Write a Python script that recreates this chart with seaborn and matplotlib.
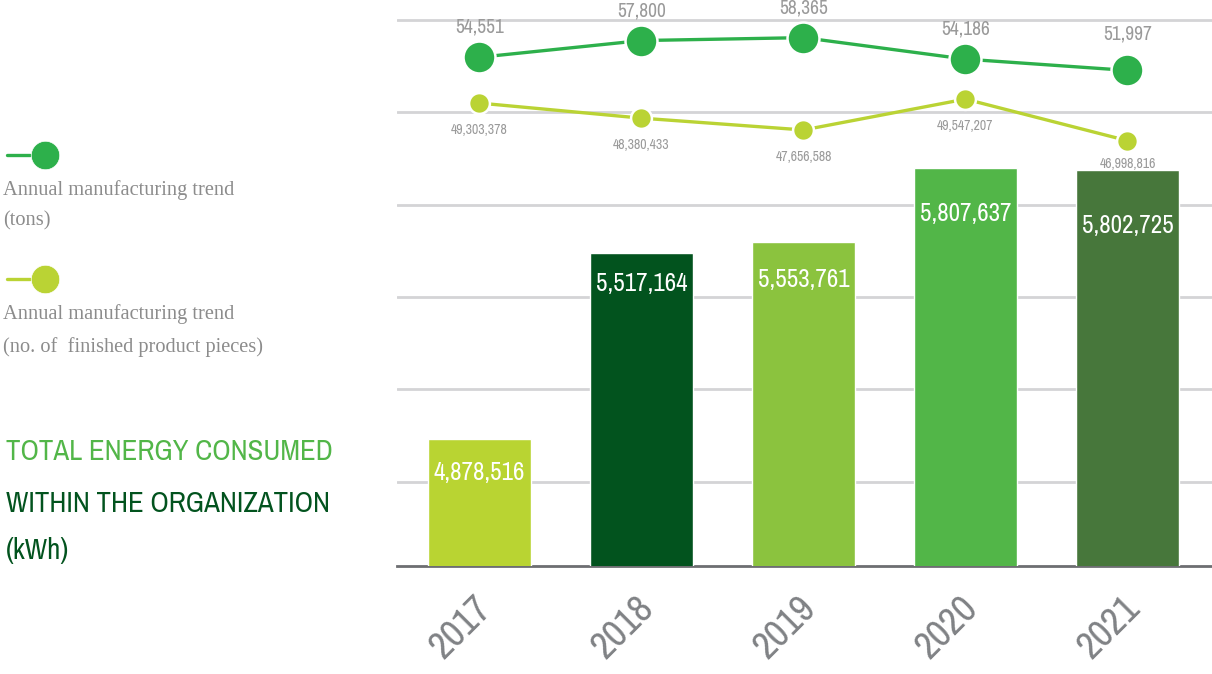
import numpy as np
import pandas as pd
import matplotlib
matplotlib.use("Agg")
import matplotlib.pyplot as plt
import matplotlib.font_manager as fm
import matplotlib.transforms as mtransforms
from matplotlib.lines import Line2D
import seaborn as sns

# ---------------- data ----------------
years = ["2017", "2018", "2019", "2020", "2021"]
energy_kwh = [4878516, 5517164, 5553761, 5807637, 5802725]
tons = [54551, 57800, 58365, 54186, 51997]
pieces = [49303378, 48380433, 47656588, 49547207, 46998816]

bar_colors = ["#b9d432", "#02531e", "#8bc33e", "#52b648", "#47773b"]
tons_color = "#2db04b"
pieces_color = "#bad334"
label_gray = "#9a9a9a"

# ---------------- fonts ----------------
sns.set_theme(style="white")
entries = fm.fontManager.ttflist
names = {f.name for f in entries}
cond_names = sorted({f.name for f in entries
                     if ("Condensed" in f.name or "Narrow" in f.name)})
cond_stretch = [f for f in entries if f.stretch in ("condensed", "semi-condensed", "extra-condensed")]
if cond_names:
    COND = dict(family=cond_names[0])
    NARROW = True
elif cond_stretch:
    COND = dict(family=cond_stretch[0].name, stretch="condensed")
    NARROW = True
else:
    COND = dict(family="Roboto" if "Roboto" in names else "DejaVu Sans")
    NARROW = False
SERIF = "Liberation Serif" if "Liberation Serif" in names else "DejaVu Serif"
plt.rcParams["font.family"] = [COND["family"], "DejaVu Sans"]

W, H = 1212, 674
fig = plt.figure(figsize=(W / 100, H / 100), dpi=100)

def fx(px):
    return px / W

def fy(py):
    return 1 - py / H

# main axes: from x=397 to right edge, from y=0 to baseline y=566
AX_L, AX_R, AX_T, AX_B = 397, 1212, 0, 566
ax = fig.add_axes([fx(AX_L), fy(AX_B), (AX_R - AX_L) / W, (AX_B - AX_T) / H])

df = pd.DataFrame({"year": years, "energy": energy_kwh, "tons": tons, "pieces": pieces})

sns.barplot(data=df, x="year", y="energy", hue="year", palette=bar_colors,
            legend=False, width=0.636, saturation=1, ax=ax, zorder=3)

# value scale (bars start from a truncated baseline as in the infographic)
BAR_LO, BAR_HI = 4.4441e6, 6.3838e6
ax.set_ylim(BAR_LO, BAR_HI)
ax.set_xlim(-0.509, 4.522)

# ---------------- trend lines on their own scales ----------------
ax_t = ax.twinx()
ax_p = ax.twinx()
for a in (ax_t, ax_p):
    a.set_xlim(ax.get_xlim())

ax_t.set_ylim(-44330, 65680)
ax_p.set_ylim(20.938e6, 55.620e6)

pos = np.arange(len(years))
sns.lineplot(x=pos, y=df["pieces"], ax=ax_p, color=pieces_color, linewidth=2.4,
             marker="o", markersize=15, markeredgecolor="white", markeredgewidth=1.8)
sns.lineplot(x=pos, y=df["tons"], ax=ax_t, color=tons_color, linewidth=2.4,
             marker="o", markersize=23, markeredgecolor="white", markeredgewidth=1.8)
ax_t.set_axis_off()
ax_p.set_axis_off()

# grid rows (pixel rows of the reference) converted to data values
grid_px = [20, 112, 205, 297, 389, 482]
grid_vals = [BAR_LO + (AX_B - p) / (AX_B - AX_T) * (BAR_HI - BAR_LO) for p in grid_px]
ax.set_yticks(grid_vals)
ax.yaxis.grid(True, color="#d4d4d6", linewidth=2.0)
ax.xaxis.grid(False)
ax.set_axisbelow(True)
ax.tick_params(axis="y", which="both", left=False, right=False,
               labelleft=False, labelright=False, length=0)
for s in ["top", "right", "left"]:
    ax.spines[s].set_visible(False)
ax.spines["bottom"].set_color("#6d6e71")
ax.spines["bottom"].set_linewidth(2.0)
ax.set_xlabel("")
ax.set_ylabel("")
ax.patch.set_alpha(0)

# year tick labels
ax.tick_params(axis="x", bottom=False, pad=20)
ax.set_xticks(range(len(years)))
ax.set_xticklabels(years)
shift = mtransforms.ScaledTranslation(7 / 100, 0, fig.dpi_scale_trans)
for t in ax.get_xticklabels():
    t.set_rotation(45)
    t.set_ha("right")
    t.set_va("center")
    t.set_rotation_mode("anchor")
    t.set_fontsize(28)
    t.set_color("#808285")
    t.set_fontfamily(COND["family"])
    if "stretch" in COND:
        t.set_fontstretch(COND["stretch"])
    t.set_transform(t.get_transform() + shift)

# bar value labels (white, inside the top of each bar)
bar_label_drop = [33, 31, 37, 45, 56]
for i, v in enumerate(energy_kwh):
    ax.annotate(f"{v:,}", xy=(i, v), xytext=(0, -bar_label_drop[i]),
                textcoords="offset pixels", ha="center", va="center",
                color="white", fontsize=18 if NARROW else 15.5, fontweight="bold",
                zorder=5, **COND)

tons_label_rise = [30, 30, 30, 30, 36]
for i, v in enumerate(tons):
    ax_t.annotate(f"{v:,}", xy=(i, v), xytext=(0, tons_label_rise[i]),
                  textcoords="offset pixels", ha="center", va="center",
                  color=label_gray, fontsize=14 if NARROW else 12, clip_on=False, **COND)
pieces_label_drop = [27, 27, 27, 27, 23]
for i, v in enumerate(pieces):
    ax_p.annotate(f"{v:,}", xy=(i, v), xytext=(0, -pieces_label_drop[i]),
                  textcoords="offset pixels", ha="center", va="center",
                  color=label_gray, fontsize=10 if NARROW else 8.5, clip_on=False, **COND)

# ---------------- left legend ----------------
for yc, col in [(155, tons_color), (279, pieces_color)]:
    fig.add_artist(Line2D([fx(7), fx(30)], [fy(yc), fy(yc)], transform=fig.transFigure,
                          color=col, linewidth=2.4))
    fig.add_artist(Line2D([fx(45)], [fy(yc)], transform=fig.transFigure, marker="o",
                          markersize=20.5, color=col, markeredgecolor="white",
                          markeredgewidth=0.5, linestyle="none"))

legend_gray = "#8c8c8c"
for yy, txt in [(190, "Annual manufacturing trend"), (221, "(tons)"),
                (314, "Annual manufacturing trend"),
                (347, "(no. of  finished product pieces)")]:
    fig.text(fx(3), fy(yy), txt, fontsize=14.7, color=legend_gray,
             family=SERIF, va="center", ha="left")

# ---------------- title ----------------
tsize = 20.8 if NARROW else 21.5
fig.text(fx(6), fy(452), "TOTAL ENERGY CONSUMED", fontsize=tsize, color="#52b648",
         va="center", ha="left", **COND)
fig.text(fx(6), fy(503), "WITHIN THE ORGANIZATION", fontsize=tsize, color="#02531e",
         va="center", ha="left", **COND)
fig.text(fx(6), fy(551), "(kWh)", fontsize=tsize, color="#02531e",
         va="center", ha="left", **COND)

fig.savefig("out.png", dpi=100)
